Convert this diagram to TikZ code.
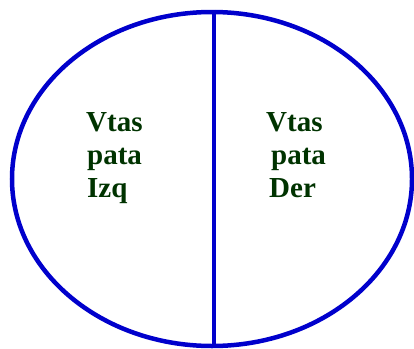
\documentclass[tikz,border=0pt]{standalone}
\usepackage{fontspec}
\setmainfont{Liberation Serif}
\usetikzlibrary{shapes.geometric}
\definecolor{ringblue}{RGB}{0,0,204}
\definecolor{txtgreen}{RGB}{0,51,0}
\begin{document}
\begin{tikzpicture}[x=1pt,y=-1pt,
  lbl/.style={anchor=base west,inner sep=0pt,text=txtgreen,font=\bfseries\fontsize{29}{32}\selectfont},
  blueline/.style={draw=ringblue,line width=4.5pt}]
\useasboundingbox (0,0) rectangle (414,348);
\node[blueline,ellipse,minimum width=400pt,minimum height=334pt,inner sep=0pt] (ring) at (212,179) {};
\coordinate (bot) at (214,348);
\draw[draw=ringblue,line width=4pt] (ring.north -| bot) -- (bot);
\node[lbl] (l1) at (86,131) {Vtas};
\node[lbl] (l2) at (87,164) {pata};
\node[lbl] (l3) at (87,197) {Izq};
\node[lbl] (r1) at (266,131) {Vtas};
\node[lbl] (r2) at (271,164) {pata};
\node[lbl] (r3) at (269,197) {Der};
\end{tikzpicture}
\end{document}
